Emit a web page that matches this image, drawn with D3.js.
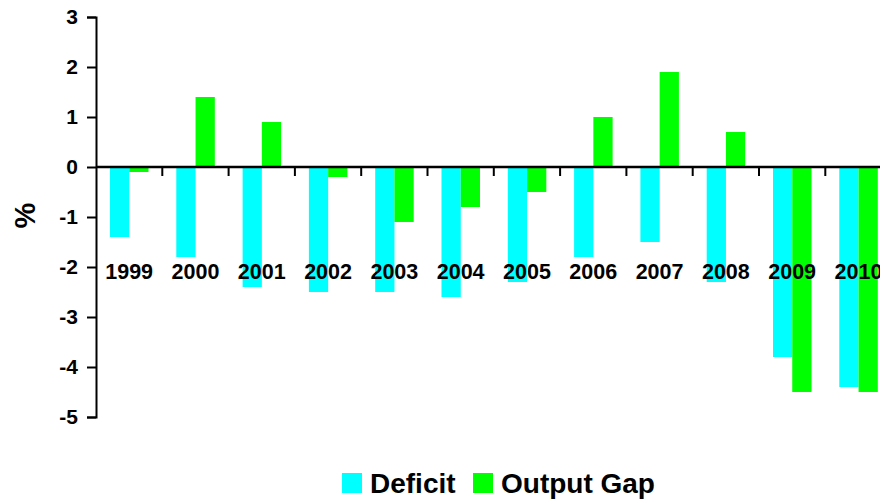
<!DOCTYPE html>
<html>
<head>
<meta charset="utf-8">
<script src="https://cdn.jsdelivr.net/npm/d3@7"></script>
<style>
  body { margin: 0; background: #fff; }
  svg text { font-family: "Liberation Sans", Arial, sans-serif; font-weight: bold; fill: #000; }
</style>
</head>
<body>
<div id="chart"></div>
<script>
var years = ["1999", "2000", "2001", "2002", "2003", "2004", "2005", "2006", "2007", "2008", "2009", "2010"];
var deficit = [-1.4, -1.8, -2.4, -2.5, -2.5, -2.6, -2.3, -1.8, -1.5, -2.3, -3.8, -4.4];
var outputGap = [-0.1, 1.4, 0.9, -0.2, -1.1, -0.8, -0.5, 1.0, 1.9, 0.7, -4.5, -4.5];
var seriesNames = ["Deficit", "Output Gap"];
var seriesColors = ["#00ffff", "#00ff00"];
var yTicks = [-5, -4, -3, -2, -1, 0, 1, 2, 3];

function init()
{
    var w = 880;
    var h = 502;
    var left = 96;
    var step = 66.3;

    var svg = d3.select("#chart")
                .append("svg")
                .attr("width", w)
                .attr("height", h);

    var x0 = d3.scaleBand()
               .domain(years)
               .range([left, left + step * years.length]);

    var x1 = d3.scaleBand()
               .domain(seriesNames)
               .range([14, 52.5]);

    var y = d3.scaleLinear()
              .domain([-5, 3])
              .range([417, 17]);

    var rows = years.map(function(yr, i) {
        return { year: yr, values: [deficit[i], outputGap[i]] };
    });

    // bars
    var groups = svg.selectAll("g.year")
        .data(rows)
        .enter()
        .append("g")
        .attr("class", "year")
        .attr("transform", function(d) { return "translate(" + x0(d.year) + ",0)"; });

    groups.selectAll("rect")
        .data(function(d) { return d.values.map(function(v, j) { return { name: seriesNames[j], v: v, c: seriesColors[j] }; }); })
        .enter()
        .append("rect")
        .attr("x", function(d) { return x1(d.name); })
        .attr("width", x1.bandwidth())
        .attr("y", function(d) { return y(Math.max(0, d.v)); })
        .attr("height", function(d) { return Math.abs(y(d.v) - y(0)); })
        .style("fill", function(d) { return d.c; });

    // y axis
    var yAxis = d3.axisLeft(y)
                  .tickValues(yTicks)
                  .tickSize(9)
                  .tickPadding(9)
                  .tickFormat(function(d) { return String(d); });

    var gy = svg.append("g")
        .attr("transform", "translate(" + left + ",0)")
        .call(yAxis);
    gy.select(".domain").attr("stroke-width", 2);
    gy.selectAll(".tick line").attr("stroke-width", 2);
    gy.selectAll("text").style("font-size", "21px");

    // x axis at zero
    var zx = svg.append("g").attr("class", "xaxis");
    zx.append("line")
        .attr("x1", left).attr("x2", w)
        .attr("y1", y(0)).attr("y2", y(0))
        .attr("stroke", "#000")
        .attr("stroke-width", 2.5);

    zx.selectAll("line.tick")
        .data(years)
        .enter()
        .append("line")
        .attr("class", "tick")
        .attr("x1", function(d) { return x0(d) + x0.bandwidth(); })
        .attr("x2", function(d) { return x0(d) + x0.bandwidth(); })
        .attr("y1", y(0))
        .attr("y2", y(0) + 9)
        .attr("stroke", "#000")
        .attr("stroke-width", 2);

    zx.selectAll("text")
        .data(years)
        .enter()
        .append("text")
        .attr("x", function(d) { return x0(d) + x0.bandwidth() / 2; })
        .attr("y", 279)
        .attr("text-anchor", "middle")
        .style("font-size", "21.5px")
        .text(function(d) { return d; });

    // y title
    svg.append("text")
        .attr("transform", "translate(35,215.5) rotate(-90)")
        .attr("text-anchor", "middle")
        .style("font-size", "29px")
        .text("%");

    // legend
    var legendX = [342, 473];
    var legend = svg.selectAll("g.legend")
        .data(seriesNames)
        .enter()
        .append("g")
        .attr("class", "legend")
        .attr("transform", function(d, i) { return "translate(" + legendX[i] + ",473)"; });

    legend.append("rect")
        .attr("width", 20)
        .attr("height", 20)
        .style("fill", function(d, i) { return seriesColors[i]; });

    legend.append("text")
        .attr("x", 28)
        .attr("y", 20)
        .style("font-size", "28px")
        .text(function(d) { return d; });
}
window.onload = init;
</script>
</body>
</html>
